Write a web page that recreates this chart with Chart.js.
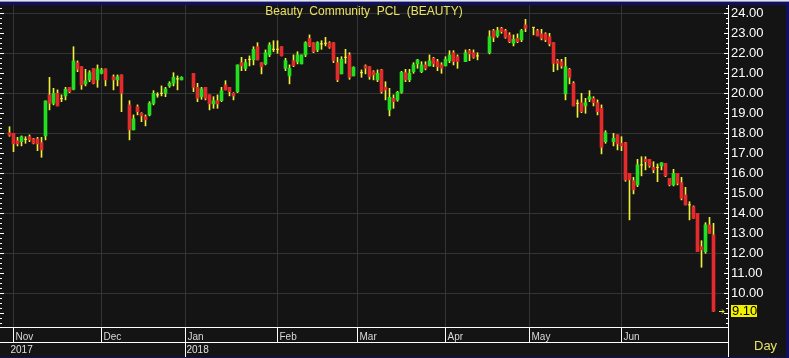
<!DOCTYPE html>
<html><head><meta charset="utf-8">
<script src="https://cdn.jsdelivr.net/npm/chart.js@4.4.1/dist/chart.umd.min.js"></script>
<style>html,body{margin:0;padding:0;background:#101060;}canvas{display:block;}</style>
</head><body>
<canvas id="c" width="789" height="358"></canvas>
<script>
const chartTitle = 'Beauty  Community  PCL  (BEAUTY)';
const periodLabel = 'Day';
const monthLabels = ['Nov','Dec','Jan','Feb','Mar','Apr','May','Jun'];
const monthStartSlots = [1,23,44,67,87,109,130,153];
const yearLabels = ['2017','2018'];
const yearStartSlots = [0,44];
const yTickValues = [10,11,12,13,14,15,16,17,18,19,20,21,22,23,24];

// one slot per weekday (Oct 31 2017 ...), null = market holiday
const openP = [
18.03,18.00,17.63,17.58,17.70,17.83,17.72,17.72,17.53,17.87,19.92,19.50,20.00,19.73,19.87,20.30,20.20,21.53,21.33,20.47,
20.67,21.25,20.67,21.00,21.22,null,20.83,20.67,20.92,null,19.42,18.17,19.33,19.00,18.83,18.92,19.50,19.92,20.00,20.00,
20.37,20.50,20.72,20.67,null,null,21.00,20.30,19.83,20.30,19.92,19.47,19.63,19.63,20.42,20.30,20.00,20.08,21.53,21.25,
21.70,21.67,22.33,21.53,21.47,21.92,22.20,22.20,22.33,21.25,20.87,21.63,21.58,21.47,21.92,22.75,22.53,22.17,22.47,22.50,
22.53,22.53,21.53,20.97,21.80,21.92,20.87,null,21.03,21.37,21.33,21.08,20.67,21.17,20.30,19.17,19.75,19.67,20.05,21.03,
20.67,21.08,21.47,21.08,21.42,21.37,21.75,21.58,21.42,21.37,21.63,22.03,21.83,null,21.58,22.13,22.03,21.87,null,null,
22.03,23.13,22.87,23.25,23.13,22.92,22.50,22.75,22.67,23.42,null,23.30,23.13,22.97,22.97,22.83,22.53,21.63,21.58,19.97,
21.20,20.50,19.50,19.53,19.37,19.70,19.75,19.53,19.25,17.58,null,17.58,17.92,17.50,17.53,16.00,15.63,15.42,16.42,16.70,
16.70,16.30,16.30,16.37,16.50,15.75,15.42,16.00,15.53,14.92,14.42,14.33,14.00,12.33,12.08,13.42,12.92];
const highP = [
18.33,18.00,17.80,17.87,17.83,17.92,17.75,17.80,17.80,19.62,20.80,20.25,20.17,19.92,20.30,20.30,22.33,21.62,21.33,21.20,
21.13,21.25,21.42,21.25,21.22,null,20.92,20.92,20.92,null,19.63,18.92,19.42,19.03,18.92,19.58,20.13,20.03,20.37,20.30,
20.58,21.03,20.87,20.83,null,null,21.00,20.50,20.30,20.30,19.92,19.83,19.92,20.30,20.63,20.30,20.03,21.42,21.80,21.70,
21.87,22.33,22.53,21.53,22.17,22.53,22.63,22.63,22.33,21.75,21.42,21.92,22.08,21.92,22.58,22.92,22.53,22.58,22.63,22.80,
22.58,22.53,21.80,21.83,22.20,22.03,21.33,null,21.17,21.42,21.33,21.13,21.17,21.20,20.58,20.25,19.92,20.10,21.10,21.20,
21.20,21.53,21.70,21.58,21.58,21.92,21.80,21.70,21.53,21.83,22.13,22.13,21.92,null,22.17,22.20,22.17,22.03,null,null,
23.13,23.20,23.30,23.30,23.20,23.03,22.92,22.97,23.20,23.70,null,23.30,23.20,23.20,23.03,23.00,22.53,21.70,21.70,21.80,
21.25,20.58,19.67,20.00,19.75,20.13,19.83,19.67,19.42,18.13,null,18.00,17.92,17.83,17.55,16.00,15.80,16.70,16.83,16.83,
16.70,16.58,16.47,16.53,16.50,15.75,16.20,16.00,15.80,15.30,14.58,14.37,14.00,12.63,13.53,13.80,13.50];
const lowP = [
17.85,17.08,17.37,17.37,17.50,17.58,17.47,17.13,16.80,17.67,19.17,19.42,19.37,19.58,19.67,20.03,20.17,21.08,20.20,20.37,
20.58,20.47,20.30,20.97,20.37,null,20.17,20.37,19.08,null,17.67,18.17,18.92,18.58,18.37,18.87,19.42,19.80,19.87,19.83,
20.30,20.37,20.17,20.67,null,null,20.08,19.58,19.70,19.67,19.17,19.25,19.25,19.58,20.17,19.87,19.67,20.03,21.13,21.13,
21.37,21.42,21.67,20.97,21.42,21.83,22.08,22.00,21.87,21.13,20.47,21.33,21.47,21.47,21.83,22.33,22.03,22.08,22.20,22.37,
22.25,21.53,20.58,20.97,21.50,20.70,20.87,null,20.80,20.97,20.70,20.67,20.58,20.00,19.67,18.87,19.25,19.60,20.00,20.58,
20.58,21.00,21.25,21.03,21.17,21.37,21.33,21.13,21.00,21.37,21.53,21.42,21.25,null,21.58,21.63,21.75,21.67,null,null,
21.97,22.58,22.80,23.00,22.75,22.53,22.37,22.53,22.58,23.08,null,22.92,22.87,22.67,22.58,22.37,21.08,21.17,21.25,19.67,
20.47,19.37,18.80,19.03,19.00,19.58,19.37,18.92,16.97,17.50,null,17.37,17.17,17.13,15.60,13.67,14.97,15.33,15.87,16.17,
16.30,16.03,15.58,16.17,15.83,15.37,15.37,15.42,14.67,14.42,13.67,13.75,12.08,11.30,12.00,13.00,9.10];
const closeP = [
17.90,17.47,17.47,17.83,17.70,17.67,17.50,17.47,17.17,19.62,19.50,20.00,19.37,19.73,20.20,20.08,21.62,21.20,20.42,20.63,
21.03,20.50,21.22,21.17,20.67,null,20.67,20.83,20.00,null,18.17,18.72,19.08,18.87,18.67,19.50,20.00,19.92,20.00,20.22,
20.50,20.80,20.72,20.80,null,null,20.30,19.75,20.22,19.75,19.47,19.63,19.47,20.13,20.17,20.08,19.87,21.42,21.37,21.53,
21.70,22.20,21.67,21.33,22.03,22.42,22.20,22.20,21.87,21.63,21.25,21.38,21.92,21.92,22.53,22.37,22.08,22.53,22.47,22.50,
22.30,21.63,20.67,21.70,21.80,20.80,21.30,null,21.03,21.25,20.83,20.92,21.00,20.08,20.17,19.80,19.58,20.05,21.05,20.67,
21.00,21.42,21.67,21.42,21.25,21.63,21.47,21.33,21.25,21.70,21.92,21.58,21.58,null,22.03,21.97,21.80,21.87,null,null,
22.83,22.80,23.13,23.08,22.80,22.58,22.70,22.58,23.13,23.25,null,23.30,22.87,22.75,22.67,22.47,21.50,21.50,21.37,21.33,
20.80,19.37,19.50,19.08,19.53,19.83,19.53,19.08,17.30,18.03,null,17.75,17.47,17.37,15.67,15.67,15.17,16.42,16.42,16.58,
16.37,16.17,16.30,16.53,15.87,15.42,16.00,15.50,14.75,14.42,14.42,13.75,12.08,12.17,13.42,13.00,9.10];

const UP = '#20e020', DOWN = '#e42a2a', WICK = '#f2ee3c', TXT_Y = '#e8e064';

const wickData = [], upData = [], downData = [], dojiData = [];
openP.forEach((o, i) => {
  if (o == null) return;
  const c = closeP[i];
  wickData.push({x: i, y: [lowP[i], highP[i]]});
  if (c > o) upData.push({x: i, y: [o, c]});
  else if (c < o) downData.push({x: i, y: [c, o]});
  else dojiData.push({x: i, y: o});
});

const noPad = s => { s.paddingLeft = 0; s.paddingRight = 0; s.paddingTop = 0; s.paddingBottom = 0; };

const frame = {
  id: 'frame',
  beforeDraw(chart) {
    const ctx = chart.ctx;
    ctx.save();
    ctx.fillStyle = '#101060'; ctx.fillRect(0, 0, 789, 358);
    ctx.fillStyle = '#e4e4ee'; ctx.fillRect(0, 0, 789, 1);
    ctx.fillStyle = '#9090b8'; ctx.fillRect(0, 1, 789, 1);
    ctx.fillStyle = '#141414'; ctx.fillRect(0, 5, 786, 352);
    ctx.restore();
  },
  afterDraw(chart) {
    const {ctx, chartArea: a, scales: {x, y}} = chart;
    ctx.save();
    ctx.fillStyle = '#ffffff';
    ctx.fillRect(a.right, a.top, 1, 357 - a.top);
    ctx.fillRect(a.left, a.bottom, a.right - a.left, 1);
    ctx.fillRect(a.left, a.bottom + 15, a.right - a.left, 1);
    monthStartSlots.forEach(s => {
      const px = Math.round(x.getPixelForValue(s) - 0.5);
      ctx.fillRect(px, a.bottom, 1, 15);
    });
    yearStartSlots.forEach(s => {
      if (s <= 0) return;
      const px = Math.round(x.getPixelForValue(s) - 0.5);
      ctx.fillRect(px, a.bottom + 15, 1, 357 - a.bottom - 15);
    });
    for (let k = Math.ceil(y.min * 4); k <= Math.floor(y.max * 4); k++) {
      const py = Math.round(y.getPixelForValue(k / 4) - 0.5);
      const len = k % 4 === 0 ? 4 : 2;
      ctx.fillRect(a.left, py, len, 1);
      ctx.fillRect(a.right - len, py, len, 1);
    }
    ctx.font = '10px "Liberation Sans", Arial, sans-serif';
    ctx.fillStyle = '#e0e0e0';
    ctx.textAlign = 'left'; ctx.textBaseline = 'middle';
    yearLabels.forEach((t, i) => {
      ctx.fillText(t, x.getPixelForValue(yearStartSlots[i]) + 1, a.bottom + 23);
    });
    ctx.font = '12px "Liberation Sans", Arial, sans-serif';
    ctx.fillStyle = TXT_Y; ctx.textAlign = 'center';
    ctx.fillText(chartTitle, (a.left + a.right) / 2, 12);
    ctx.font = '13px "Liberation Sans", Arial, sans-serif';
    ctx.textAlign = 'left';
    ctx.fillText(periodLabel, 754, 346);
    const last = closeP.length - 1, lv = closeP[last];
    const py = y.getPixelForValue(lv);
    ctx.fillStyle = '#f0f000';
    ctx.fillRect(a.right + 3, Math.round(py) - 6, 26, 12);
    ctx.fillStyle = '#000000';
    ctx.fillText(lv.toFixed(2), a.right + 4, Math.round(py) + 0.5);
    ctx.strokeStyle = WICK; ctx.lineWidth = 1;
    const ay = Math.round(py) + 0.5;
    ctx.beginPath();
    ctx.moveTo(a.right - 9, ay); ctx.lineTo(a.right - 4, ay);
    ctx.moveTo(a.right - 6, ay - 2); ctx.lineTo(a.right - 4, ay); ctx.lineTo(a.right - 6, ay + 2);
    ctx.stroke();
    ctx.restore();
  }
};

new Chart(document.getElementById('c'), {
  type: 'bar',
  data: {
    datasets: [
      {data: upData, backgroundColor: UP, barThickness: 3, grouped: false, order: 1},
      {data: downData, backgroundColor: DOWN, barThickness: 3, grouped: false, order: 1},
      {type: 'line', data: dojiData, showLine: false, pointStyle: 'line', pointRadius: 1.5,
       pointHoverRadius: 1.5, borderColor: WICK, pointBorderColor: WICK, pointBorderWidth: 1, order: 0},
      {data: wickData, backgroundColor: WICK, barThickness: 1, grouped: false, order: 2}
    ]
  },
  options: {
    responsive: false, animation: false,
    layout: {autoPadding: false, padding: {top: 5, left: 0, right: 0, bottom: 0}},
    plugins: {legend: {display: false}, tooltip: {enabled: false}},
    scales: {
      x: {
        type: 'linear', min: -2.375, max: 179.625, offset: false, position: 'bottom',
        afterBuildTicks: s => { s.ticks = monthStartSlots.map(v => ({value: v})); },
        afterFit: s => { s.height = 31; noPad(s); },
        grid: {color: '#343434', drawTicks: false, offset: false},
        border: {display: false},
        ticks: {align: 'start', labelOffset: 2, padding: 4, maxRotation: 0, autoSkip: false,
          color: '#d8d8d8', font: {family: '"Liberation Sans", Arial, sans-serif', size: 10},
          callback: (v, i) => monthLabels[i]}
      },
      y: {
        position: 'right', min: 8.315, max: 24.415,
        afterBuildTicks: s => { s.ticks = yTickValues.map(v => ({value: v})); },
        afterFit: s => { s.width = 61; noPad(s); },
        grid: {color: c => (c.tick && c.tick.value % 2 === 0) ? '#343434' : 'rgba(0,0,0,0)', drawTicks: false},
        border: {display: false},
        ticks: {color: '#ffffff', padding: 3,
          font: {family: '"Liberation Sans", Arial, sans-serif', size: 13},
          callback: v => Number(v).toFixed(2)}
      }
    }
  },
  plugins: [frame]
});
</script>
</body></html>
